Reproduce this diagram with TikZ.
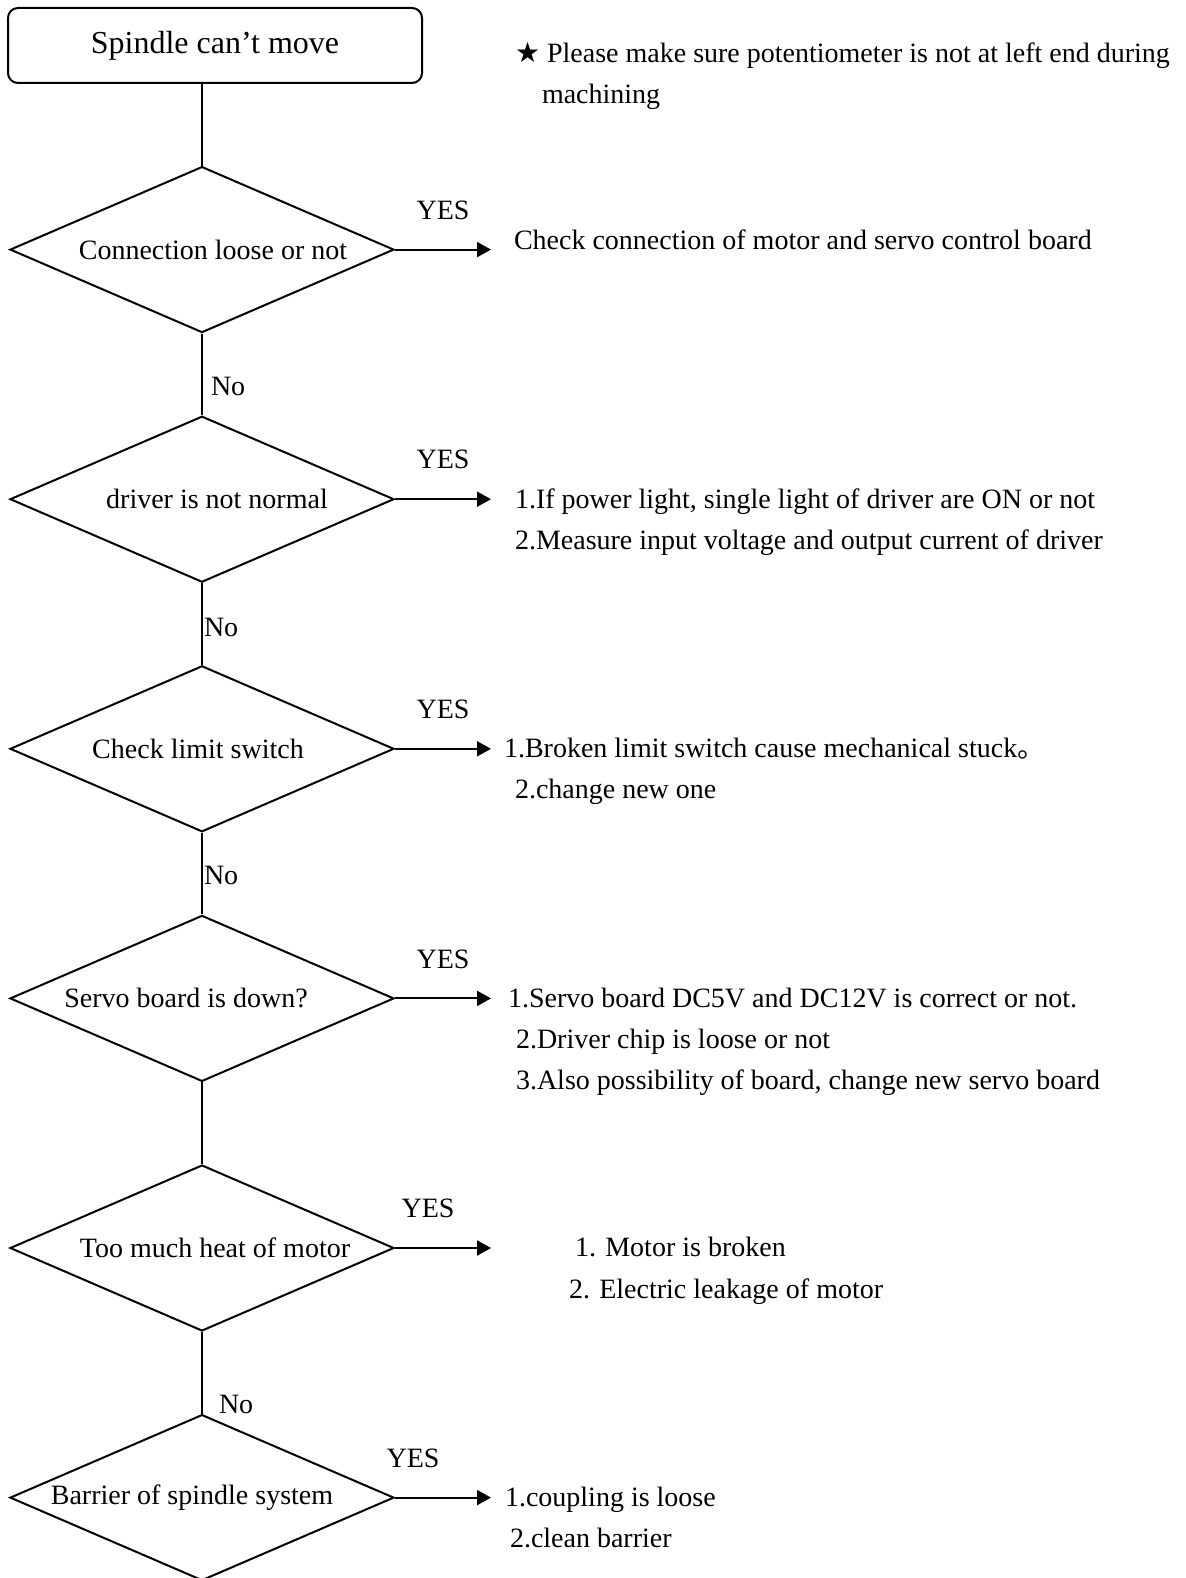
\documentclass[tikz,border=0pt]{standalone}
\usepackage{fontspec}
\setmainfont{Liberation Serif}
\newfontfamily\symfont{DejaVu Sans}
\newfontfamily\cjkfont{Noto Sans CJK SC}
\usetikzlibrary{arrows.meta}
\usetikzlibrary{calc,shapes,positioning}

\begin{document}
\begin{tikzpicture}[font=\fontsize{14}{20.65}\selectfont,line width=1pt,node distance=40.8pt and 48pt,
    startBox/.style={draw, rounded corners=5pt, minimum height=37.5pt, minimum width=207pt, font=\fontsize{16}{19}\selectfont},
    checkBox/.style={draw, diamond, aspect=2.3, inner sep=0pt, minimum height=83pt, minimum width=192pt},
    yesLabel/.style={above=14.5pt, inner sep=0pt},
    noLabel/.style={right, inner sep=0.5pt},
    noteText/.style={anchor=north west, align=left, inner sep=0pt},
    >={Triangle[length=7pt,width=7.5pt]},
    ]
    \useasboundingbox (0,0) rectangle (592.5pt,-789pt);

    \node[startBox] (start) at (107.5pt,-22.75pt) {Spindle can’t move};
    \node[checkBox, below=of start, xshift=-6.5pt] (loose) {\hspace*{11pt}Connection loose or not};
    \node[checkBox, below=of loose] (driver) {\hspace*{15pt}driver is not normal};
    \node[checkBox, below=of driver] (limitSw) {Check limit switch\hspace*{4pt}};
    \node[checkBox, below=of limitSw] (servoBoard) {Servo board is down?\hspace*{16pt}};
    \node[checkBox, below=of servoBoard] (heat) {\hspace*{13pt}Too much heat of motor};
    \node[checkBox, below=of heat] (barrier) {Barrier of spindle system\hspace*{10pt}};

    \node[noteText] (hint) at (257pt,-20.4pt) {{\symfont ★} Please make sure potentiometer is not at left end during\\\hspace*{13.5pt}machining};

    % down the column
    \draw (start.south -| loose.north) -- (loose.north);
    \draw (loose.south) -- node[noLabel, pos=0.65, xshift=3.5pt] {No} (driver.north);
    \draw (driver.south) -- node[noLabel, pos=0.54] {No} (limitSw.north);
    \draw (limitSw.south) -- node[noLabel, pos=0.52] {No} (servoBoard.north);
    \draw (servoBoard.south) -- (heat.north);
    \draw (heat.south) -- node[noLabel, pos=0.89, xshift=7.5pt] {No} (barrier.north);

    % YES branches
    \draw[->] (loose.east) -- node[yesLabel] {YES} ++(48pt,0) coordinate (looseEnd);
    \draw[->] (driver.east) -- node[yesLabel] {YES} ++(48pt,0) coordinate (driverEnd);
    \draw[->] (limitSw.east) -- node[yesLabel] {YES} ++(48pt,0) coordinate (limitEnd);
    \draw[->] (servoBoard.east) -- node[yesLabel] {YES} ++(48pt,0) coordinate (servoEnd);
    \draw[->] (heat.east) -- node[yesLabel, xshift=-7.5pt] {YES} ++(48pt,0) coordinate (heatEnd);
    \draw[->] (barrier.east) -- node[yesLabel, xshift=-15pt] {YES} ++(48pt,0) coordinate (barrierEnd);

    \node[noteText] (looseNote) at ([xshift=11pt,yshift=10.35pt]looseEnd) {Check connection of motor and servo control board};
    \node[noteText] (driverNote) at ([xshift=11.5pt,yshift=5.85pt]driverEnd) {1.If power light, single light of driver are ON or not\\2.Measure input voltage and output current of driver};
    \node[noteText] (limitNote) at ([xshift=6pt,yshift=5.85pt]limitEnd) {1.Broken limit switch cause mechanical stuck{\cjkfont 。}\\\hspace*{5.5pt}2.change new one};
    \node[noteText] (servoNote) at ([xshift=8pt,yshift=5.85pt]servoEnd) {1.Servo board DC5V and DC12V is correct or not.\\\hspace*{4pt}2.Driver chip is loose or not\\\hspace*{4pt}3.Also possibility of board, change new servo board};
    \node[noteText] (heatNote) at ([xshift=38.5pt,yshift=5.85pt]heatEnd) {\hspace*{3pt}1. Motor is broken\\2. Electric leakage of motor};
    \node[noteText] (barrierNote) at ([xshift=6.5pt,yshift=5.85pt]barrierEnd) {1.coupling is loose\\\hspace*{2.5pt}2.clean barrier};
  \end{tikzpicture}
\end{document}
